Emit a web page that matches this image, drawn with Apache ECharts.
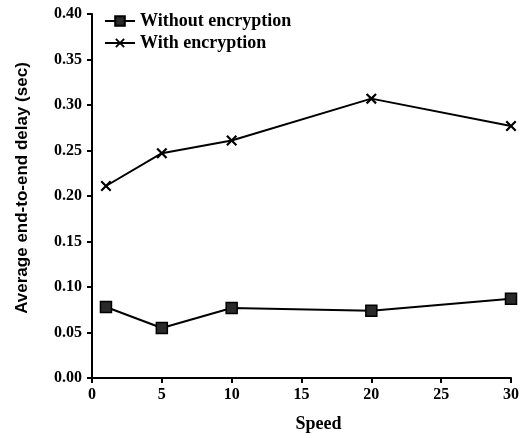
<!DOCTYPE html>
<html><head><meta charset="utf-8">
<script src="https://cdn.jsdelivr.net/npm/echarts@6/dist/echarts.min.js"></script>
<style>html,body{margin:0;padding:0;background:#fff}#c{width:529px;height:438px}</style>
</head><body><div id="c"></div>
<script>
const speeds = [1, 5, 10, 20, 30];
const withoutEnc = [0.078, 0.055, 0.077, 0.074, 0.087];
const withEnc = [0.211, 0.247, 0.261, 0.307, 0.277];
const seriesNames = ['Without encryption', 'With encryption'];
const xTicks = {min: 0, max: 30, interval: 5};
const yTicks = {min: 0, max: 0.40, interval: 0.05};

const serif = '"Liberation Serif", "DejaVu Serif", serif';
const sans = '"Liberation Sans", Arial, sans-serif';
const crossPath = 'path://M0,1.4L1.4,0L5,3.6L8.6,0L10,1.4L6.4,5L10,8.6L8.6,10L5,6.4L1.4,10L0,8.6L3.6,5Z';

const chart = echarts.init(document.getElementById('c'), null, {renderer: 'canvas'});
chart.setOption({
  animation: false,
  backgroundColor: '#fff',
  grid: {left: 92, right: 18, top: 14, bottom: 60, containLabel: false},
  legend: {
    left: 99, top: 7, orient: 'vertical', itemGap: 4, itemWidth: 30, itemHeight: 12, itemGap: 4,
    textStyle: {fontFamily: serif, fontWeight: 'bold', fontSize: 18, color: '#000'},
    data: seriesNames
  },
  xAxis: {
    type: 'value', min: xTicks.min, max: xTicks.max, interval: xTicks.interval,
    name: 'Speed', nameLocation: 'middle', nameGap: 37,
    nameTextStyle: {fontFamily: serif, fontWeight: 'bold', fontSize: 18, color: '#000', padding: [0, 0, 0, 34]},
    axisLine: {show: true, lineStyle: {color: '#000', width: 2}},
    axisTick: {show: true, inside: false, length: 5, lineStyle: {color: '#000', width: 2}},
    axisLabel: {fontFamily: serif, fontWeight: 'bold', fontSize: 16, color: '#000', margin: 9},
    splitLine: {show: false}
  },
  yAxis: {
    type: 'value', min: yTicks.min, max: yTicks.max, interval: yTicks.interval,
    name: 'Average end-to-end delay (sec)', nameLocation: 'middle', nameGap: 61, nameRotate: 90,
    nameTextStyle: {fontFamily: sans, fontWeight: 'bold', fontSize: 17, color: '#000', padding: [0, 0, 0, 16]},
    axisLine: {show: true, lineStyle: {color: '#000', width: 2}},
    axisTick: {show: true, inside: false, length: 5, lineStyle: {color: '#000', width: 2}},
    axisLabel: {fontFamily: serif, fontWeight: 'bold', fontSize: 16, color: '#000', margin: 10,
      formatter: v => v.toFixed(2)},
    splitLine: {show: false}
  },
  series: [
    {
      name: seriesNames[0], type: 'line',
      data: speeds.map((s, i) => [s, withoutEnc[i]]),
      symbol: 'rect', symbolSize: 11, showAllSymbol: true,
      lineStyle: {color: '#000', width: 2},
      itemStyle: {color: '#2a2a2a', borderColor: '#000', borderWidth: 1.5}
    },
    {
      name: seriesNames[1], type: 'line',
      data: speeds.map((s, i) => [s, withEnc[i]]),
      symbol: crossPath, symbolSize: 11, showAllSymbol: true,
      lineStyle: {color: '#000', width: 2},
      itemStyle: {color: '#000', borderWidth: 0}
    }
  ]
});
</script></body></html>
